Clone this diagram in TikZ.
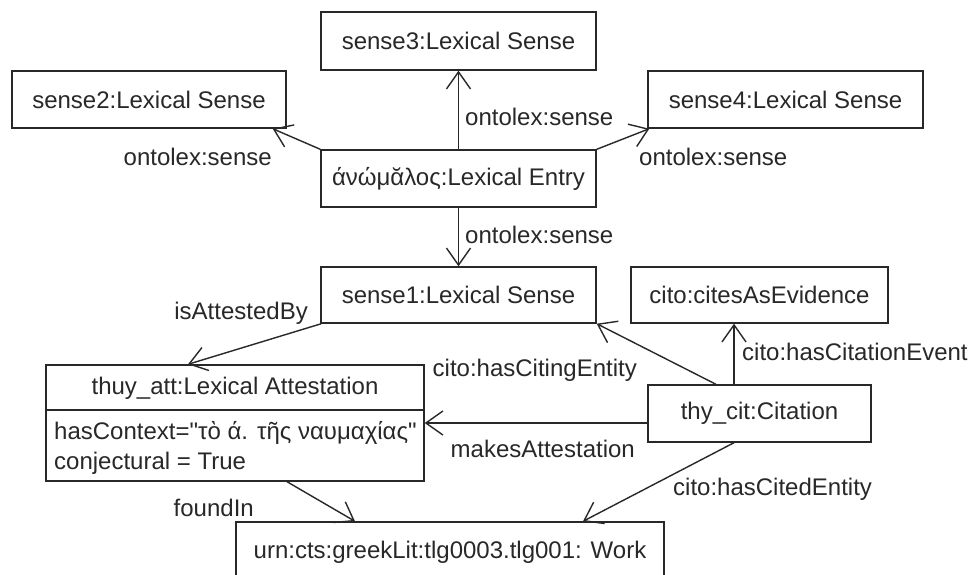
\documentclass[tikz,border=0pt]{standalone}
\usepackage{fontspec}
\setmainfont{Liberation Sans}[Ligatures=TeXOff]
\usetikzlibrary{arrows.meta,calc}
\definecolor{ink}{RGB}{40,40,40}
\begin{document}
\begin{tikzpicture}[x=1pt,y=-1pt,
  every node/.style={font=\fontsize{24}{28}\selectfont, text=ink},
  box/.style={draw=ink, line width=1.4pt, inner sep=0pt, rectangle},
  lbl/.style={inner sep=0pt},
  link/.style={draw=ink, line width=1.4pt, -{Straight Barb[length=17pt,width=24pt,line width=1.4pt]}}]
\useasboundingbox (0,0) rectangle (972,574);
\fill[white] (0,0) rectangle (972,574);
% boxes
\node[box, minimum width=275pt, minimum height=58pt] (sense3) at (458.5,41) {sense3:Lexical Sense};
\node[box, minimum width=274pt, minimum height=57pt] (sense2) at (149,99.5) {sense2:Lexical Sense};
\node[box, minimum width=275pt, minimum height=57pt] (sense4) at (785.5,99.5) {sense4:Lexical Sense};
\node[box, minimum width=275pt, minimum height=57pt] (entry) at (458.5,178.5) {άνώμᾰλος:Lexical Entry};
\node[box, minimum width=275pt, minimum height=56pt] (sense1) at (458.5,295) {sense1:Lexical Sense};
\node[box, minimum width=257pt, minimum height=56pt] (cites) at (759.5,295) {cito:citesAsEvidence};
\node[box, minimum width=378pt, minimum height=116pt] (thuyatt) at (235,423) {};
\draw[ink, line width=1.4pt] (thuyatt.west |- 0,410) -- (thuyatt.east |- 0,410);
\node[lbl] (atttitle) at (235,388) {thuy\_att:Lexical Attestation};
\node[lbl, anchor=west] (attctx) at (54,433) {hasContext="τὸ ά. τῆς ναυμαχίας"};
\node[lbl, anchor=west] (attconj) at (54,463) {conjectural = True};
\node[box, minimum width=223pt, minimum height=57pt] (thycit) at (759.5,413.5) {thy\_cit:Citation};
\node[box, minimum width=428pt, minimum height=60pt] (urn) at (450,552) {urn:cts:greekLit:tlg0003.tlg001: Work};
% connectors
\draw[link] (entry.north) -- (sense3.south);
\draw[link] (entry.north west) -- ($(sense2.south east)+(-14,0)$);
\draw[link] (entry.north east) -- ($(sense4.south west)+(2,0)$);
\draw[link] (entry.south) -- (sense1.north);
\draw[link] ($(sense1.south west)+(1,0)$) -- ($(thuyatt.north)+(-47,0)$);
\draw[link] ($(thycit.north)+(-43.5,0)$) -- (sense1.south east);
\draw[link] ($(thycit.north)+(-25.5,0)$) -- ($(cites.south)+(-25.5,0)$);
\draw[link] (thycit.west |- thuyatt.east) -- (thuyatt.east);
\draw[link] ($(thuyatt.south)+(52,0)$) -- ($(urn.north)+(-95,0)$);
\draw[link] ($(thycit.south)+(-25.5,0)$) -- ($(urn.north)+(133,0)$);
% labels
\node[lbl, anchor=west] (l3) at (465,117) {ontolex:sense};
\node[lbl, anchor=east] (l2) at (272,157) {ontolex:sense};
\node[lbl, anchor=west] (l4) at (639,157) {ontolex:sense};
\node[lbl, anchor=west] (l1) at (465,235) {ontolex:sense};
\node[lbl, anchor=east] (lattest) at (308,313) {isAttestedBy};
\node[lbl, anchor=east] (lciting) at (637,370) {cito:hasCitingEntity};
\node[lbl, anchor=west] (levent) at (742,352) {cito:hasCitationEvent};
\node[lbl, anchor=east] (lmakes) at (635,449) {makesAttestation};
\node[lbl, anchor=east] (lfound) at (254,508) {foundIn};
\node[lbl, anchor=west] (lcited) at (673,489) {cito:hasCitedEntity};
\end{tikzpicture}
\end{document}
